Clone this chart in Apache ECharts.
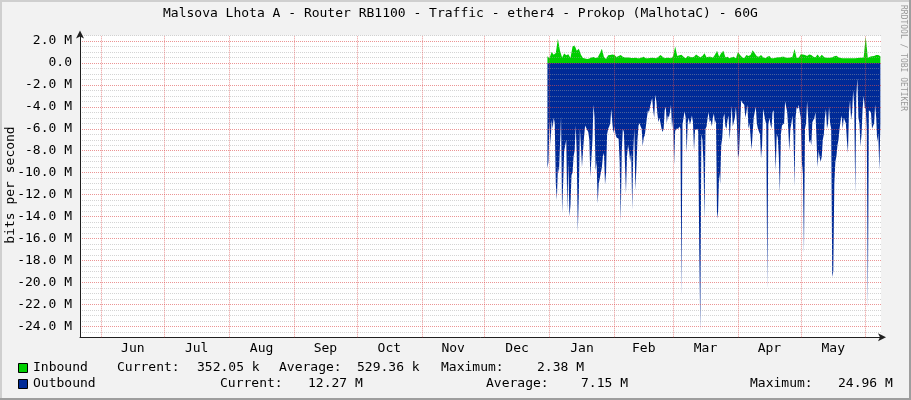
<!DOCTYPE html>
<html><head><meta charset="utf-8">
<script src="https://cdn.jsdelivr.net/npm/echarts@6/dist/echarts.min.js"></script>
<style>html,body{margin:0;padding:0;background:#f2f2f2}#c{width:911px;height:400px}</style>
</head><body><div id="c"></div>
<script>
const chartTitle = 'Malsova Lhota A - Router RB1100 - Traffic - ether4 - Prokop (MalhotaC) - 60G';
const yAxisName = 'bits per second';
const watermark = 'RRDTOOL / TOBI OETIKER';
const monthStarts = ['2018-06-01','2018-07-01','2018-08-01','2018-09-01','2018-10-01','2018-11-01','2018-12-01','2019-01-01','2019-02-01','2019-03-01','2019-04-01','2019-05-01','2019-06-01'];
const monthLabels = ['Jun','Jul','Aug','Sep','Oct','Nov','Dec','Jan','Feb','Mar','Apr','May'];
const xStart = '2018-05-21T19:00:00Z';
const xEnd = '2019-06-08T07:00:00Z';
const dataStart = '2018-12-31T00:00:00Z';
const inboundStepHours = 24;
const outboundStepHours = 12;
// values in M bits/s
const inboundM = [
0.6,0.45,1.0,0.75,0.9,2.2,1.1,0.5,0.85,0.7,0.8,0.45,1.5,1.6,1.1,1.3,0.75,0.45,0.4,0.35,0.4,0.5,0.55,0.45,0.5,0.85,1.3,
0.55,0.35,0.7,0.72,0.78,0.72,0.55,0.63,0.72,0.57,0.5,0.5,0.5,0.45,0.45,0.48,0.42,0.42,0.5,0.57,0.42,0.42,0.45,0.48,0.45,0.42,
0.57,0.72,0.57,0.42,0.48,0.48,0.42,0.6,1.5,0.63,0.7,0.75,0.57,0.42,0.63,0.57,0.51,0.57,0.78,0.63,0.51,0.63,0.88,0.51,0.57,0.57,0.48,
0.75,1.1,0.57,0.9,1.1,0.51,0.57,0.42,0.51,0.57,0.42,1.0,0.72,0.51,0.42,0.72,0.63,0.72,1.15,0.88,0.6,0.57,0.72,0.51,0.42,0.57,0.63,
0.42,0.42,0.48,0.51,0.51,0.57,0.57,0.48,0.48,0.5,0.57,1.27,0.48,0.48,0.8,0.78,0.72,0.63,0.78,0.72,0.57,0.51,0.78,0.51,0.75,0.57,0.48,
0.48,0.48,0.51,0.6,0.66,0.51,0.45,0.42,0.42,0.42,0.42,0.42,0.42,0.42,0.45,0.48,0.48,0.5,2.38,0.45,0.57,0.6,0.63,0.72,0.72,0.6
];
const outboundM = [
-9.6,-9.0,-5.3,-7.5,-5.2,-6.0,-5.0,-5.5,-11.0,-12.5,
-9.5,-10.0,-10.0,-4.9,-13.7,-11.0,-8.0,-8.0,-7.0,-13.5,
-9.0,-14.0,-13.0,-10.2,-10.0,-8.5,-8.0,-5.7,-8.2,-15.4,
-12.0,-6.0,-7.5,-9.5,-8.0,-6.7,-5.7,-5.9,-6.1,-6.3,
-7.0,-10.4,-10.4,-7.0,-3.8,-5.0,-9.8,-9.0,-12.8,-11.0,
-10.5,
-10.4,-9.5,-8.5,-8.2,-11.1,-10.0,-6.5,-6.0,-5.8,
-5.5,-4.2,-5.5,-6.4,-5.8,-6.5,-6.8,-6.7,-6.9,-9.0,
-14.5,-8.0,-6.0,-6.3,-9.0,-11.9,-8.5,-7.5,-8.0,-9.0,
-8.2,-13.4,-8.0,-6.0,-11.6,-9.5,-7.0,-5.7,-5.5,-5.8,
-6.0,-7.6,-6.8,-6.6,-6.7,-5.0,-4.3,-4.5,-4.0,-4.0,
-3.2,-4.3,-5.0,-2.9,-3.5,-4.6,
-5.4,-5.0,-5.5,-6.0,
-6.3,-6.0,-4.3,-4.0,-5.5,-4.8,-5.0,-4.5,-3.8,-6.0,
-5.0,-9.3,-6.2,-6.0,-6.1,-6.0,-5.8,-6.0,-21.3,-5.6,
-5.5,-4.4,-5.0,-8.2,-5.4,-5.0,-5.6,-5.3,-4.8,-5.4,
-8.0,-6.1,-6.1,-6.0,-6.2,-16.9,-24.5,-6.5,-7.0,-9.0,
-14.3,-6.0,-5.8,-5.0,-4.5,-5.4,-5.2,-5.8,-5.0,-4.6,
-5.5,-5.2,-14.2,-13.5,-10.0,-11.0,-7.5,-6.8,-5.0,-4.6,
-5.8,-6.0,-5.2,-4.8,-7.0,-5.5,-3.9,-5.8,-5.7,-5.0,
-4.0,-5.5,-8.7,-8.2,-6.0,-3.4,-3.6,-3.7,-3.8,-5.0,
-4.5,-3.8,-6.0,-5.5,-5.6,-7.9,-6.4,-5.0,-4.5,-4.0,
-5.5,-6.0,-6.1,-6.5,-8.7,-7.5,-4.2,-4.1,-5.2,-5.6,
-20.7,-5.6,-5.0,-5.6,
-6.0,-4.5,-4.3,-7.0,-9.8,-6.5,
-6.8,-8.5,-11.9,-6.5,-5.7,-5.8,-5.5,-3.5,-4.0,-4.5,
-6.0,-8.0,-6.0,-5.5,-4.8,-6.5,-11.3,-5.0,-4.0,-4.2,
-3.8,-4.5,-5.0,-9.0,-10.1,-17.4,-6.0,-5.5,-3.5,-5.0,
-7.3,-7.0,-7.5,-5.4,-5.3,-5.0,-4.5,-7.0,-9.5,-8.0,
-8.6,-9.0,-8.5,-7.0,-6.5,-5.0,-4.2,
-6.0,-5.5,-4.0,
-5.5,-6.0,-19.5,-19.0,-11.0,-9.0,-8.5,-7.5,-7.0,-6.0,
-5.3,-4.8,-6.0,-5.0,-5.0,-5.5,-7.0,-8.2,-4.5,-3.4,
-5.2,-4.5,-2.5,-4.0,-11.9,-3.0,-1.4,-5.0,-5.5,-7.6,
-6.5,-4.2,-3.0,-4.0,-4.2,-6.0,-22.5,-4.3,-4.3,-4.5,
-6.0,-6.0,-5.5,-3.8,-5.0,-7.2,-6.5,-9.8,-5.5
];
const yMin = -25, yMax = 2.5, yMinorStep = 0.5, yMajorStep = 2;
const legendRows = [
  {name:'Inbound', color:'#00CF00', items:[['Current:', '352.05 k'],['Average:', '529.36 k'],['Maximum:', '2.38 M']]},
  {name:'Outbound', color:'#002A97', items:[['Current:', '12.27 M'],['Average:', '7.15 M'],['Maximum:', '24.96 M']]}
];

const FONT = 'DejaVu Sans Mono';
const HOUR = 3600e3;
const t0 = Date.parse(dataStart);
const monthTs = monthStarts.map(s => Date.parse(s + 'T00:00:00Z'));
const labelTs = monthLabels.map((m, i) => (monthTs[i] + monthTs[i + 1]) / 2);
const inboundData = inboundM.map((v, i) => [t0 + i * inboundStepHours * HOUR, v]);
const outboundData = outboundM.map((v, i) => [t0 + i * outboundStepHours * HOUR, v]);

function yLabel(v) {
  const r = Math.round(v * 1000) / 1000;
  if (Math.abs(r / yMajorStep - Math.round(r / yMajorStep)) > 1e-6) return '';
  if (r === 0) return '0.0';
  return r.toFixed(1) + ' M';
}

const GRID = 'rgba(160,160,160,0.45)';
const MGRID = 'rgba(222,79,79,0.6)';
const AXIS = '#1f1f1f';

const legendX = {label: 33, row0: [117, 197, 279, 357, 441, 537], row1: [220, 308, 486, 581, 750, 838]};
const rowY = [368, 384];
const graphics = [];
legendRows.forEach((row, r) => {
  graphics.push({type:'rect', shape:{x:18.5, y:rowY[r]-4.5, width:9, height:9}, style:{fill:row.color, stroke:'#000', lineWidth:1}});
  graphics.push({type:'text', x:legendX.label, y:rowY[r], style:{text:row.name, font:'13px "'+FONT+'"', fill:'#000', textVerticalAlign:'middle'}});
  const xs = r === 0 ? legendX.row0 : legendX.row1;
  row.items.forEach((it, j) => {
    graphics.push({type:'text', x:xs[j*2], y:rowY[r], style:{text:it[0], font:'13px "'+FONT+'"', fill:'#000', textVerticalAlign:'middle'}});
    graphics.push({type:'text', x:xs[j*2+1], y:rowY[r], style:{text:it[1], font:'13px "'+FONT+'"', fill:'#000', textVerticalAlign:'middle'}});
  });
});
graphics.push({type:'text', x:11, y:185, rotation:Math.PI/2, style:{text:yAxisName, font:'13px "'+FONT+'"', fill:'#000', textAlign:'center', textVerticalAlign:'middle'}});
graphics.push({type:'text', x:907, y:5, rotation:-Math.PI/2, style:{text:watermark, font:'8px "'+FONT+'"', fill:'#999', textAlign:'left', textVerticalAlign:'top'}});
graphics.push({type:'rect', shape:{x:0, y:0, width:911, height:2}, style:{fill:'#cfcfcf'}});
graphics.push({type:'rect', shape:{x:0, y:0, width:2, height:400}, style:{fill:'#cfcfcf'}});
graphics.push({type:'rect', shape:{x:909, y:0, width:2, height:400}, style:{fill:'#9e9e9e'}});
graphics.push({type:'rect', shape:{x:0, y:398, width:911, height:2}, style:{fill:'#9e9e9e'}});

const chart = echarts.init(document.getElementById('c'), null, {renderer:'canvas'});
chart.setOption({
  animation: false,
  backgroundColor: '#f2f2f2',
  title: {text: chartTitle, left: 163, top: 7, padding: 0, textStyle:{fontFamily:FONT, fontSize:13, fontWeight:'normal', color:'#000'}},
  grid: {left: 80, width: 801, top: 35.5, height: 301.8, show: true, backgroundColor: '#fff', borderWidth: 0, containLabel: false, outerBoundsMode: 'none'},
  xAxis: {
    type: 'value', min: Date.parse(xStart), max: Date.parse(xEnd), z: 3,
    axisLine: {show: true, onZero: false, lineStyle: {color: AXIS, width: 1}, symbol: ['none', 'arrow'], symbolSize: [6, 8], symbolOffset: [0, 5]},
    axisTick: {show: false},
    splitLine: {show: false},
    axisLabel: {customValues: labelTs, formatter: function (v) { const i = labelTs.findIndex(t => Math.abs(t - v) < HOUR); return i >= 0 ? monthLabels[i] : ''; },
      fontFamily: FONT, fontSize: 13, color: '#000', margin: 5, hideOverlap: false}
  },
  yAxis: {
    type: 'value', min: yMin, max: yMax, interval: yMinorStep, z: 3,
    axisLine: {show: true, lineStyle: {color: AXIS, width: 1}, symbol: ['none', 'arrow'], symbolSize: [6, 8], symbolOffset: [0, 5]},
    axisTick: {show: false},
    axisLabel: {formatter: yLabel, fontFamily: FONT, fontSize: 13, color: '#000', margin: 8},
    splitLine: {show: true, lineStyle: {color: [GRID, GRID, MGRID, GRID], type: [1, 1], width: 1}}
  },
  graphic: graphics,
  series: [
    {type: 'line', name: 'Outbound', data: outboundData, showSymbol: false, symbol: 'none',
      lineStyle: {width: 0}, areaStyle: {color: '#002A97', opacity: 1}, itemStyle: {color: '#002A97'}, emphasis: {disabled: true}, silent: true, z: 2},
    {type: 'line', name: 'Inbound', data: inboundData, showSymbol: false, symbol: 'none',
      lineStyle: {width: 0}, areaStyle: {color: '#00CF00', opacity: 1}, itemStyle: {color: '#00CF00'}, emphasis: {disabled: true}, silent: true, z: 2,
      markLine: {silent: true, symbol: 'none', label: {show: false}, animation: false,
        lineStyle: {color: MGRID, type: [1, 1], width: 1}, emphasis: {disabled: true},
        data: monthTs.map(t => ({xAxis: t}))}}
  ]
});
</script></body></html>
